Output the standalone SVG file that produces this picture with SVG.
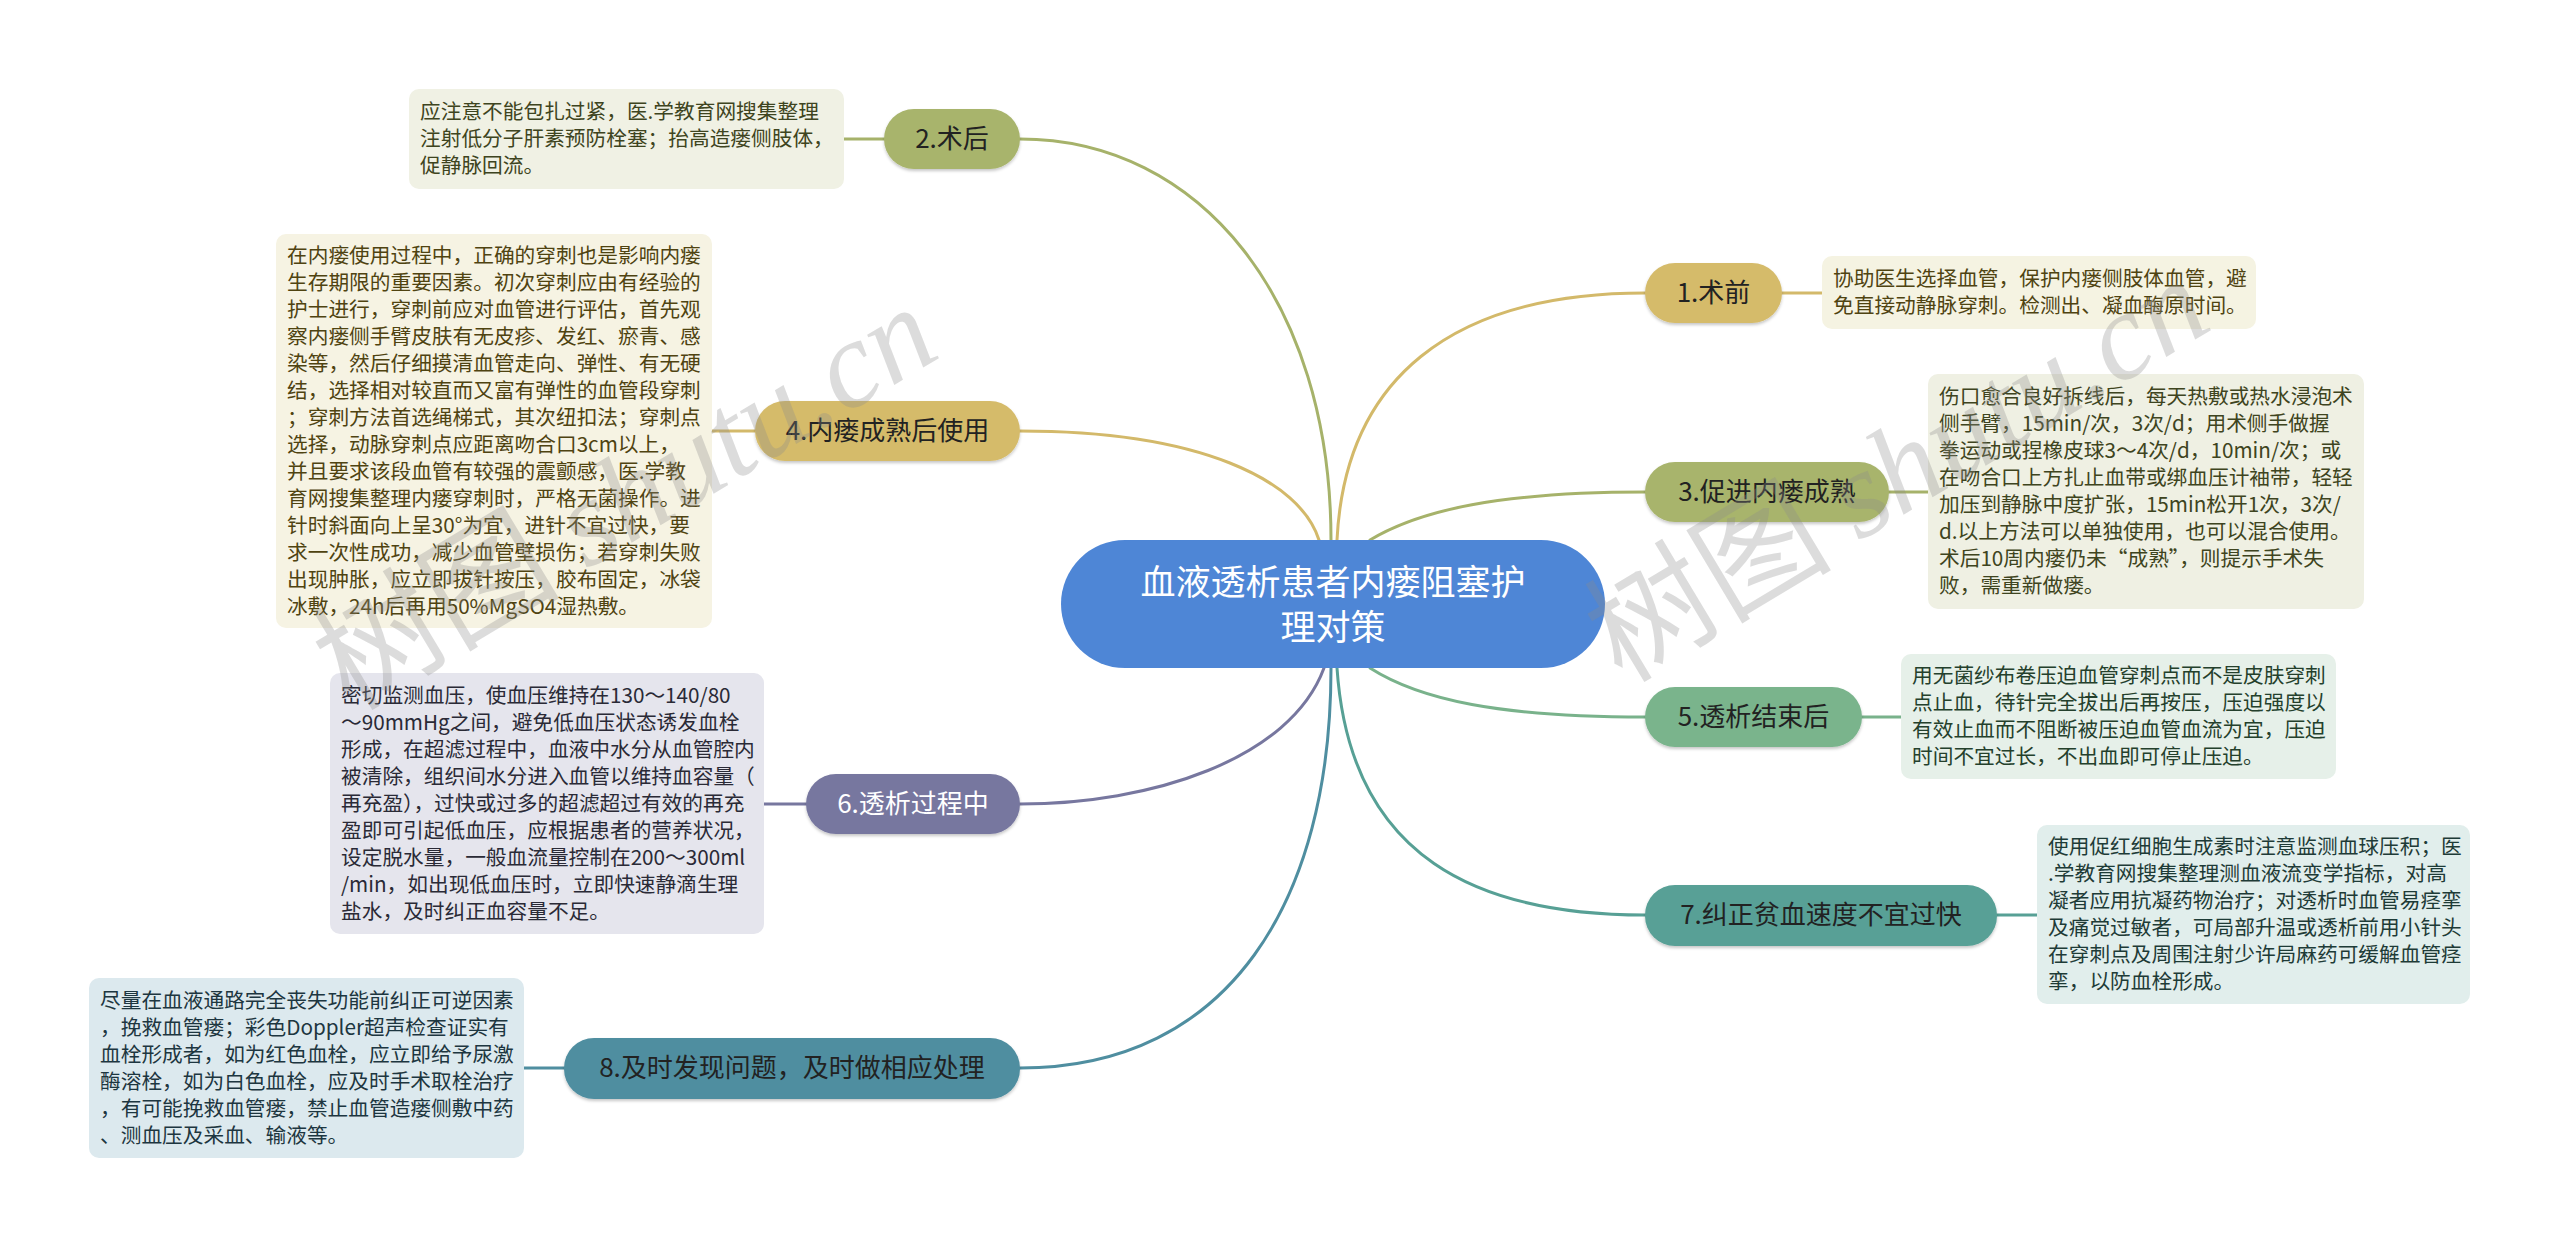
<svg xmlns="http://www.w3.org/2000/svg" width="2560" height="1249" viewBox="0 0 2560 1249">
<style>
.cjk{font-family:"Noto Sans CJK SC","Noto Sans",sans-serif}
.leaf{font-size:20.7px}
.br{font-size:26px;text-anchor:middle;fill:#222}
.ctr{font-size:35px;text-anchor:middle;fill:#fff}
.con{fill:none;stroke-width:3;stroke-linecap:round}
.wm{font-size:124px;fill:#8a8a8a;fill-opacity:0.3}
</style>
<defs>
<filter id="sh" x="-10%" y="-20%" width="120%" height="150%">
<feDropShadow dx="0" dy="2" stdDeviation="1.5" flood-color="#000" flood-opacity="0.22"/>
</filter>
</defs>
<rect width="2560" height="1249" fill="#fff"/>
<g id="connectors">
<path class="con" stroke="#a6b26a" d="M1331,540 C1331,300 1200,139 1020,139"/>
<path class="con" stroke="#d3b96a" d="M1319,540 C1300,480 1200,431 1020,431"/>
<path class="con" stroke="#d3b96a" d="M1337,540 C1345,380 1450,293 1645,293"/>
<path class="con" stroke="#a6b26a" d="M1370,540 C1420,510 1500,492 1645,492"/>
<path class="con" stroke="#79b28b" d="M1370,668 C1420,700 1500,717 1645,717"/>
<path class="con" stroke="#77779f" d="M1324,668 C1290,760 1150,804 1020,804"/>
<path class="con" stroke="#57a095" d="M1337,668 C1350,860 1480,915 1645,915"/>
<path class="con" stroke="#4f8ea0" d="M1331,668 C1331,900 1230,1068 1020,1068"/>
<path class="con" stroke="#a6b26a" d="M884,139 L844,139"/>
<path class="con" stroke="#d3b96a" d="M755,431 L712,431"/>
<path class="con" stroke="#77779f" d="M806,804 L764,804"/>
<path class="con" stroke="#4f8ea0" d="M564,1068 L524,1068"/>
<path class="con" stroke="#d3b96a" d="M1782,293 L1822,293"/>
<path class="con" stroke="#a6b26a" d="M1889,492 L1928,492"/>
<path class="con" stroke="#79b28b" d="M1862,717 L1901,717"/>
<path class="con" stroke="#57a095" d="M1997,915 L2037,915"/>
</g>
<g id="center">
<rect x="1061" y="540" width="544" height="128" rx="64" fill="#4e86d6"/>
<text class="cjk ctr" x="1333" y="595">血液透析患者内瘘阻塞护</text>
<text class="cjk ctr" x="1333" y="640">理对策</text>
</g>
<g id="n1">
<rect x="1645" y="263" width="137" height="60" rx="30" fill="#d5bb6b" filter="url(#sh)"/>
<text class="cjk br" x="1713.5" y="302">1.术前</text>
</g>
<g id="n2">
<rect x="884" y="109" width="136" height="60" rx="30" fill="#a8b46c" filter="url(#sh)"/>
<text class="cjk br" x="952" y="148">2.术后</text>
</g>
<g id="n3">
<rect x="1645" y="462" width="244" height="60" rx="30" fill="#a8b46c" filter="url(#sh)"/>
<text class="cjk br" x="1767" y="501">3.促进内瘘成熟</text>
</g>
<g id="n4">
<rect x="755" y="401" width="265" height="60" rx="30" fill="#d5bb6b" filter="url(#sh)"/>
<text class="cjk br" x="887.5" y="440">4.内瘘成熟后使用</text>
</g>
<g id="n5">
<rect x="1645" y="687" width="217" height="60" rx="30" fill="#7ab48c" filter="url(#sh)"/>
<text class="cjk br" x="1753.5" y="726">5.透析结束后</text>
</g>
<g id="n6">
<rect x="806" y="774" width="214" height="60" rx="30" fill="#77779f" filter="url(#sh)"/>
<text class="cjk br" x="913" y="813" style="fill:#fff">6.透析过程中</text>
</g>
<g id="n7">
<rect x="1645" y="885" width="352" height="61" rx="30" fill="#58a096" filter="url(#sh)"/>
<text class="cjk br" x="1821" y="924">7.纠正贫血速度不宜过快</text>
</g>
<g id="n8">
<rect x="564" y="1038" width="456" height="61" rx="30" fill="#508ea0" filter="url(#sh)"/>
<text class="cjk br" x="792" y="1077">8.及时发现问题，及时做相应处理</text>
</g>
<g id="leaf1">
<rect x="1822" y="256" width="434" height="73" rx="10" fill="#f5f3e2"/>
<text class="cjk leaf" fill="#4f4311" x="1833" y="286"><tspan x="1833">协助医生选择血管，保护内瘘侧肢体血管，避</tspan><tspan x="1833" dy="27">免直接动静脉穿刺。检测出、凝血酶原时间。</tspan></text>
</g>
<g id="leaf2">
<rect x="409" y="89" width="435" height="100" rx="10" fill="#f0f1e4"/>
<text class="cjk leaf" fill="#3e4420" x="420" y="119"><tspan x="420">应注意不能包扎过紧，医.学教育网搜集整理</tspan><tspan x="420" dy="27">注射低分子肝素预防栓塞；抬高造瘘侧肢体，</tspan><tspan x="420" dy="27">促静脉回流。</tspan></text>
</g>
<g id="leaf3">
<rect x="1928" y="374" width="436" height="235" rx="10" fill="#eff0e3"/>
<text class="cjk leaf" fill="#3e4420" x="1939" y="404"><tspan x="1939">伤口愈合良好拆线后，每天热敷或热水浸泡术</tspan><tspan x="1939" dy="27">侧手臂，15min/次，3次/d；用术侧手做握</tspan><tspan x="1939" dy="27">拳运动或捏橡皮球3～4次/d，10min/次；或</tspan><tspan x="1939" dy="27">在吻合口上方扎止血带或绑血压计袖带，轻轻</tspan><tspan x="1939" dy="27">加压到静脉中度扩张，15min松开1次，3次/</tspan><tspan x="1939" dy="27">d.以上方法可以单独使用，也可以混合使用。</tspan><tspan x="1939" dy="27">术后10周内瘘仍未“成熟”，则提示手术失</tspan><tspan x="1939" dy="27">败，需重新做瘘。</tspan></text>
</g>
<g id="leaf4">
<rect x="276" y="234" width="436" height="394" rx="10" fill="#f6f3e3"/>
<text class="cjk leaf" fill="#4f4311" x="287" y="262.5"><tspan x="287">在内瘘使用过程中，正确的穿刺也是影响内瘘</tspan><tspan x="287" dy="27">生存期限的重要因素。初次穿刺应由有经验的</tspan><tspan x="287" dy="27">护士进行，穿刺前应对血管进行评估，首先观</tspan><tspan x="287" dy="27">察内瘘侧手臂皮肤有无皮疹、发红、瘀青、感</tspan><tspan x="287" dy="27">染等，然后仔细摸清血管走向、弹性、有无硬</tspan><tspan x="287" dy="27">结，选择相对较直而又富有弹性的血管段穿刺</tspan><tspan x="287" dy="27">；穿刺方法首选绳梯式，其次纽扣法；穿刺点</tspan><tspan x="287" dy="27">选择，动脉穿刺点应距离吻合口3cm以上，</tspan><tspan x="287" dy="27">并且要求该段血管有较强的震颤感，医.学教</tspan><tspan x="287" dy="27">育网搜集整理内瘘穿刺时，严格无菌操作。进</tspan><tspan x="287" dy="27">针时斜面向上呈30°为宜，进针不宜过快，要</tspan><tspan x="287" dy="27">求一次性成功，减少血管壁损伤；若穿刺失败</tspan><tspan x="287" dy="27">出现肿胀，应立即拔针按压，胶布固定，冰袋</tspan><tspan x="287" dy="27">冰敷，24h后再用50%MgSO4湿热敷。</tspan></text>
</g>
<g id="leaf5">
<rect x="1901" y="654" width="435" height="125" rx="10" fill="#e6f0e9"/>
<text class="cjk leaf" fill="#24402c" x="1912" y="683"><tspan x="1912">用无菌纱布卷压迫血管穿刺点而不是皮肤穿刺</tspan><tspan x="1912" dy="27">点止血，待针完全拔出后再按压，压迫强度以</tspan><tspan x="1912" dy="27">有效止血而不阻断被压迫血管血流为宜，压迫</tspan><tspan x="1912" dy="27">时间不宜过长，不出血即可停止压迫。</tspan></text>
</g>
<g id="leaf6">
<rect x="330" y="673" width="434" height="261" rx="10" fill="#e5e5ed"/>
<text class="cjk leaf" fill="#2a2a36" x="341" y="702.5"><tspan x="341">密切监测血压，使血压维持在130～140/80</tspan><tspan x="341" dy="27">～90mmHg之间，避免低血压状态诱发血栓</tspan><tspan x="341" dy="27">形成，在超滤过程中，血液中水分从血管腔内</tspan><tspan x="341" dy="27">被清除，组织间水分进入血管以维持血容量（</tspan><tspan x="341" dy="27">再充盈），过快或过多的超滤超过有效的再充</tspan><tspan x="341" dy="27">盈即可引起低血压，应根据患者的营养状况，</tspan><tspan x="341" dy="27">设定脱水量，一般血流量控制在200～300ml</tspan><tspan x="341" dy="27">/min，如出现低血压时，立即快速静滴生理</tspan><tspan x="341" dy="27">盐水，及时纠正血容量不足。</tspan></text>
</g>
<g id="leaf7">
<rect x="2037" y="825" width="433" height="179" rx="10" fill="#e1eeec"/>
<text class="cjk leaf" fill="#1e3b37" x="2048" y="854"><tspan x="2048">使用促红细胞生成素时注意监测血球压积；医</tspan><tspan x="2048" dy="27">.学教育网搜集整理测血液流变学指标，对高</tspan><tspan x="2048" dy="27">凝者应用抗凝药物治疗；对透析时血管易痉挛</tspan><tspan x="2048" dy="27">及痛觉过敏者，可局部升温或透析前用小针头</tspan><tspan x="2048" dy="27">在穿刺点及周围注射少许局麻药可缓解血管痉</tspan><tspan x="2048" dy="27">挛，以防血栓形成。</tspan></text>
</g>
<g id="leaf8">
<rect x="89" y="978" width="435" height="180" rx="10" fill="#dce9ee"/>
<text class="cjk leaf" fill="#1d3640" x="100" y="1007.5"><tspan x="100">尽量在血液通路完全丧失功能前纠正可逆因素</tspan><tspan x="100" dy="27">，挽救血管瘘；彩色Doppler超声检查证实有</tspan><tspan x="100" dy="27">血栓形成者，如为红色血栓，应立即给予尿激</tspan><tspan x="100" dy="27">酶溶栓，如为白色血栓，应及时手术取栓治疗</tspan><tspan x="100" dy="27">，有可能挽救血管瘘，禁止血管造瘘侧敷中药</tspan><tspan x="100" dy="27">、测血压及采血、输液等。</tspan></text>
</g>
<g id="watermark">
<text class="wm" transform="translate(350,712) rotate(-31)"><tspan font-family="'Noto Sans CJK SC',sans-serif">树图 </tspan><tspan font-family="'Liberation Serif',serif" font-style="italic">shutu.cn</tspan></text>
<text class="wm" transform="translate(1622,684) rotate(-31)"><tspan font-family="'Noto Sans CJK SC',sans-serif">树图 </tspan><tspan font-family="'Liberation Serif',serif" font-style="italic">shutu.cn</tspan></text>
</g>
</svg>
